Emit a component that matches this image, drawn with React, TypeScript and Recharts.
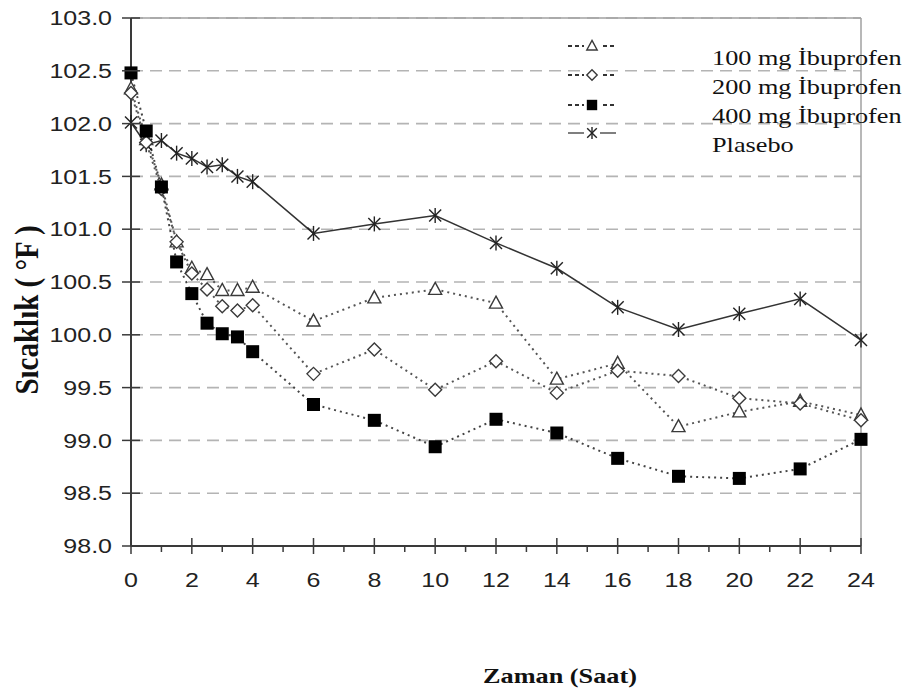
import React from 'react';
import {
  LineChart,
  Line,
  XAxis,
  YAxis,
  CartesianGrid,
  ReferenceLine,
} from 'recharts';

// time points (hours) and mean temperature (°F) for each group
const hours = [0, 0.5, 1, 1.5, 2, 2.5, 3, 3.5, 4, 6, 8, 10, 12, 14, 16, 18, 20, 22, 24];
const mg100 = [102.33, 101.85, 101.42, 100.88, 100.63, 100.57, 100.42, 100.42, 100.45, 100.13, 100.35, 100.43, 100.3, 99.58, 99.73, 99.13, 99.27, 99.37, 99.24];
const mg200 = [102.29, 101.82, 101.38, 100.88, 100.58, 100.43, 100.27, 100.23, 100.28, 99.63, 99.86, 99.48, 99.75, 99.45, 99.66, 99.61, 99.4, 99.35, 99.19];
const mg400 = [102.48, 101.93, 101.4, 100.69, 100.39, 100.11, 100.01, 99.98, 99.84, 99.34, 99.19, 98.94, 99.2, 99.07, 98.83, 98.66, 98.64, 98.73, 99.01];
const plasebo = [102.01, 101.8, 101.84, 101.72, 101.67, 101.59, 101.61, 101.5, 101.45, 100.96, 101.05, 101.13, 100.87, 100.63, 100.26, 100.05, 100.2, 100.34, 99.95];

const seriesNames = ['100 mg İbuprofen', '200 mg İbuprofen', '400 mg İbuprofen', 'Plasebo'];
const yTicks = [98, 98.5, 99, 99.5, 100, 100.5, 101, 101.5, 102, 102.5, 103];
const xTicks = Array.from({ length: 25 }, (_, i) => i);

const data = hours.map((h, i) => ({
  h,
  mg100: mg100[i],
  mg200: mg200[i],
  mg400: mg400[i],
  plasebo: plasebo[i],
}));

const SANS = '"Liberation Sans", Arial, sans-serif';
const SERIF = '"Liberation Serif", "Times New Roman", serif';
const INK = '#3a3a3a';

const Triangle = ({ cx, cy, s = 1 }: any) => (
  <path
    d={`M${cx},${cy - 7 * s} L${cx + 6.5 * s},${cy + 5 * s} L${cx - 6.5 * s},${cy + 5 * s} Z`}
    fill="#fff"
    stroke={INK}
    strokeWidth={1.4}
  />
);

const Diamond = ({ cx, cy, s = 1 }: any) => (
  <path
    d={`M${cx},${cy - 6.5 * s} L${cx + 6.5 * s},${cy} L${cx},${cy + 6.5 * s} L${cx - 6.5 * s},${cy} Z`}
    fill="#fff"
    stroke={INK}
    strokeWidth={1.4}
  />
);

const Square = ({ cx, cy, s = 1 }: any) => (
  <rect x={cx - 6.5 * s} y={cy - 6.5 * s} width={13 * s} height={13 * s} fill="#000" />
);

const Asterisk = ({ cx, cy, s = 1 }: any) => (
  <g stroke="#222" strokeWidth={1.4}>
    <line x1={cx - 6 * s} y1={cy - 6 * s} x2={cx + 6 * s} y2={cy + 6 * s} />
    <line x1={cx - 6 * s} y1={cy + 6 * s} x2={cx + 6 * s} y2={cy - 6 * s} />
    <line x1={cx} y1={cy - 7.5 * s} x2={cx} y2={cy + 7.5 * s} />
  </g>
);

const dotOf = (Shape: any) => (p: any) => {
  const { key, cx, cy } = p;
  if (cx == null || cy == null) return <g key={key} />;
  return (
    <g key={key}>
      <Shape cx={cx} cy={cy} />
    </g>
  );
};

const YTick = (p: any) => {
  const { x, y, payload } = p;
  return (
    <g>
      <line x1={x - 9} x2={x + 9} y1={y} y2={y} stroke={INK} strokeWidth={1.5} />
      <g transform={`translate(${x - 19},${y})`}>
        <text
          transform="scale(1.25,1)"
          textAnchor="end"
          dy="0.36em"
          fontFamily={SANS}
          fontSize={20}
          fill="#222"
        >
          {Number(payload.value).toFixed(1)}
        </text>
      </g>
    </g>
  );
};

const XTick = (p: any) => {
  const { x, y, payload } = p;
  const major = payload.value % 2 === 0;
  if (!major) {
    return <line x1={x} x2={x} y1={y} y2={y + 6} stroke={INK} strokeWidth={1.5} />;
  }
  return (
    <g>
      <line x1={x} x2={x} y1={y - 8} y2={y + 8} stroke={INK} strokeWidth={1.5} />
      <g transform={`translate(${x},${y + 41})`}>
        <text transform="scale(1.25,1)" textAnchor="middle" fontFamily={SANS} fontSize={20} fill="#222">
          {payload.value}
        </text>
      </g>
    </g>
  );
};

const legendShapes = [Triangle, Diamond, Square, Asterisk];
const legendSymbolY = [46, 75, 105, 133];

const App: React.FC = () => {
  return (
    <div style={{ position: 'absolute', left: 0, top: 0, width: 907, height: 693, background: '#fff' }}>
      <LineChart width={907} height={693} data={data} margin={{ top: 18, right: 46, bottom: 0, left: 0 }}>
        <CartesianGrid vertical={false} stroke="#b4b4b4" strokeWidth={1.6} strokeDasharray="12 7" />
        <ReferenceLine y={103} stroke="#a0a0a0" strokeWidth={1.5} />
        <ReferenceLine x={24} stroke="#a0a0a0" strokeWidth={1.5} />
        <XAxis
          dataKey="h"
          type="number"
          domain={[0, 24]}
          ticks={xTicks}
          interval={0}
          tickSize={0}
          tickMargin={0}
          tickLine={false}
          tick={<XTick />}
          axisLine={{ stroke: INK, strokeWidth: 2 }}
          height={147}
        />
        <YAxis
          type="number"
          domain={[98, 103]}
          ticks={yTicks}
          interval={0}
          tickSize={0}
          tickMargin={0}
          tickLine={false}
          tick={<YTick />}
          axisLine={{ stroke: INK, strokeWidth: 2 }}
          width={131}
        />
        <Line
          dataKey="plasebo"
          stroke="#333"
          strokeWidth={1.5}
          dot={dotOf(Asterisk)}
          isAnimationActive={false}
        />
        <Line
          dataKey="mg100"
          stroke="#555"
          strokeWidth={2}
          strokeDasharray="2 4"
          dot={dotOf(Triangle)}
          isAnimationActive={false}
        />
        <Line
          dataKey="mg200"
          stroke="#555"
          strokeWidth={2}
          strokeDasharray="2 4"
          dot={dotOf(Diamond)}
          isAnimationActive={false}
        />
        <Line
          dataKey="mg400"
          stroke="#444"
          strokeWidth={2}
          strokeDasharray="2 4"
          dot={dotOf(Square)}
          isAnimationActive={false}
        />
      </LineChart>

      {/* legend: symbols column and text column are offset like in the source */}
      <svg style={{ position: 'absolute', left: 560, top: 30 }} width={70} height={120}>
        {legendShapes.map((Shape, i) => {
          const cy = legendSymbolY[i] - 30;
          return (
            <g key={i}>
              <line
                x1={8}
                x2={56}
                y1={cy}
                y2={cy}
                stroke={i === 3 ? '#555' : '#333'}
                strokeWidth={i === 3 ? 1.4 : 2.2}
                strokeDasharray={i === 3 ? undefined : '4 3'}
              />
              <rect x={24} y={cy - 8} width={16} height={16} fill="#fff" />
              <Shape cx={32} cy={cy} s={0.8} />
            </g>
          );
        })}
      </svg>
      <div
        style={{
          position: 'absolute',
          left: 712,
          top: 44,
          fontFamily: SERIF,
          fontSize: 21,
          lineHeight: '29px',
          color: '#111',
          transform: 'scaleX(1.25)',
          transformOrigin: 'left top',
          whiteSpace: 'nowrap',
        }}
      >
        {seriesNames.map((n) => (
          <div key={n}>{n}</div>
        ))}
      </div>

      <div
        style={{
          position: 'absolute',
          left: 560,
          top: 676,
          fontFamily: SERIF,
          fontWeight: 'bold',
          fontSize: 21,
          color: '#111',
          whiteSpace: 'nowrap',
          transform: 'translate(-50%, -50%) scaleX(1.25)',
        }}
      >
        Zaman (Saat)
      </div>
      <div
        style={{
          position: 'absolute',
          left: 27,
          top: 310,
          fontFamily: SERIF,
          fontWeight: 'bold',
          fontSize: 29,
          color: '#111',
          whiteSpace: 'nowrap',
          transform: 'translate(-50%, -50%) rotate(-90deg) scaleY(1.15)',
        }}
      >
        Sıcaklık ( °F )
      </div>
    </div>
  );
};

export default App;
